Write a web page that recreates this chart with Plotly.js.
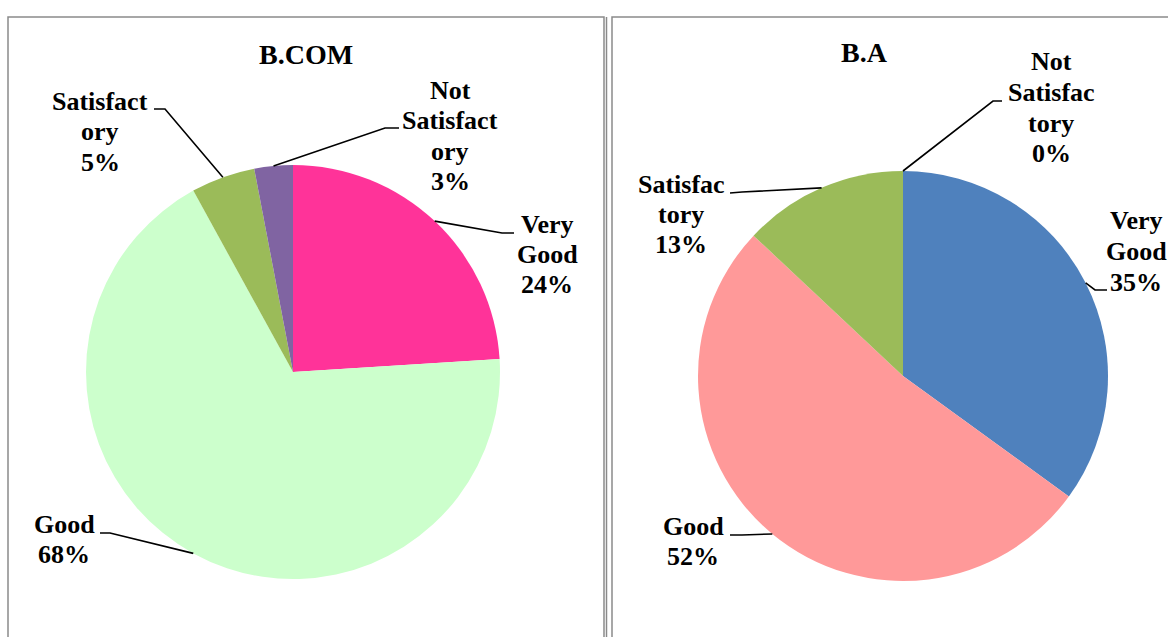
<!DOCTYPE html>
<html><head><meta charset="utf-8">
<script src="https://cdn.plot.ly/plotly-3.0.1.min.js"></script>
<style>html,body{margin:0;padding:0;background:#fff;overflow:hidden}#chart{width:1168px;height:637px}</style>
</head><body><div id="chart"></div>
<script>
// ---- data ----
const categories = ["Very Good", "Good", "Satisfactory", "Not Satisfactory"];
const bcomValues = [24, 68, 5, 3];
const baValues = [35, 52, 13, 0];
const bcomTitle = "B.COM";
const baTitle = "B.A";
// wrapped category names as printed in each chart
const bcomNameLines = [["Very", "Good"], ["Good"], ["Satisfact", "ory"], ["Not", "Satisfact", "ory"]];
const baNameLines = [["Very", "Good"], ["Good"], ["Satisfac", "tory"], ["Not", "Satisfac", "tory"]];
const bcomColors = ["#FF3399", "#CCFFCC", "#9BBB59", "#8064A2"];
const baColors = ["#4F81BD", "#FF9999", "#9BBB59", "#8064A2"];

// ---- layout config (pixels) ----
const W = 1168, H = 637;
const FONT = "Liberation Serif, Times New Roman, serif";
const LINE = 30.5;
const charts = [
  { title: bcomTitle, values: bcomValues, names: bcomNameLines, colors: bcomColors,
    cx: 293, cy: 372, r: 207, titleX: 306, titleY: 54,
    labels: [
      { x: 547, y: 224, elbow: [502, 233], end: [514, 233] },
      { x: 64, y: 524, elbow: [110, 533], end: [100, 533] },
      { x: 100, y: 101, elbow: [165, 109], end: [154, 109] },
      { x: 450, y: 90, elbow: [385, 128], end: [399, 128] }
    ] },
  { title: baTitle, values: baValues, names: baNameLines, colors: baColors,
    cx: 903, cy: 376, r: 205, titleX: 864, titleY: 53,
    labels: [
      { x: 1136, y: 221, elbow: [1095, 290], end: [1107, 290] },
      { x: 693, y: 526, elbow: [742, 535], end: [730, 535] },
      { x: 681, y: 184, elbow: [742, 192], end: [730, 193] },
      { x: 1051, y: 62, elbow: [993, 101], end: [1002, 101] }
    ] }
];

const px = x => x / W;
const py = y => 1 - y / H;

const traces = [];
const annotations = [];
const shapes = [];

// panel borders
const borderColor = "#8a8a8a";
shapes.push({ type: "rect", xref: "paper", yref: "paper", x0: px(8), x1: px(604), y0: py(700), y1: py(17), line: { color: borderColor, width: 1.5 } });
shapes.push({ type: "line", xref: "paper", yref: "paper", x0: px(606.5), x1: px(606.5), y0: py(700), y1: py(17), line: { color: borderColor, width: 1.5 } });
shapes.push({ type: "rect", xref: "paper", yref: "paper", x0: px(612), x1: px(1180), y0: py(700), y1: py(17), line: { color: borderColor, width: 1.5 } });

charts.forEach(c => {
  traces.push({
    type: "pie",
    labels: categories,
    values: c.values,
    marker: { colors: c.colors, line: { width: 0 } },
    sort: false,
    direction: "clockwise",
    rotation: 0,
    textinfo: "none",
    hoverinfo: "label+percent",
    showlegend: false,
    domain: { x: [px(c.cx - c.r), px(c.cx + c.r)], y: [py(c.cy + c.r), py(c.cy - c.r)] }
  });
  annotations.push({
    xref: "paper", yref: "paper", x: px(c.titleX), y: py(c.titleY),
    xanchor: "center", yanchor: "middle", showarrow: false,
    text: "<b>" + c.title + "</b>",
    font: { family: FONT, size: 28, color: "#000" }
  });
  const total = c.values.reduce((a, b) => a + b, 0);
  let cum = 0;
  c.values.forEach((v, i) => {
    const mid = (cum + v / 2) / total;
    cum += v;
    const th = 2 * Math.PI * mid;
    const ex = c.cx + c.r * Math.sin(th), ey = c.cy - c.r * Math.cos(th);
    const lab = c.labels[i];
    const lines = c.names[i].concat([Math.round(v / total * 100) + "%"]);
    lines.forEach((t, k) => {
      annotations.push({
        xref: "paper", yref: "paper", x: px(lab.x), y: py(lab.y + k * LINE),
        xanchor: "center", yanchor: "middle", showarrow: false,
        text: "<b>" + t + "</b>",
        font: { family: FONT, size: 26, color: "#000" }
      });
    });
    shapes.push({
      type: "path", xref: "paper", yref: "paper",
      path: `M ${px(ex)} ${py(ey)} L ${px(lab.elbow[0])} ${py(lab.elbow[1])} L ${px(lab.end[0])} ${py(lab.end[1])}`,
      line: { color: "#000", width: 1.6 }
    });
  });
});

Plotly.newPlot("chart", traces, {
  width: W, height: H,
  margin: { l: 0, r: 0, t: 0, b: 0 },
  paper_bgcolor: "#fff", plot_bgcolor: "#fff",
  annotations: annotations,
  shapes: shapes
}, { displayModeBar: false, staticPlot: true });
</script>
</body></html>
